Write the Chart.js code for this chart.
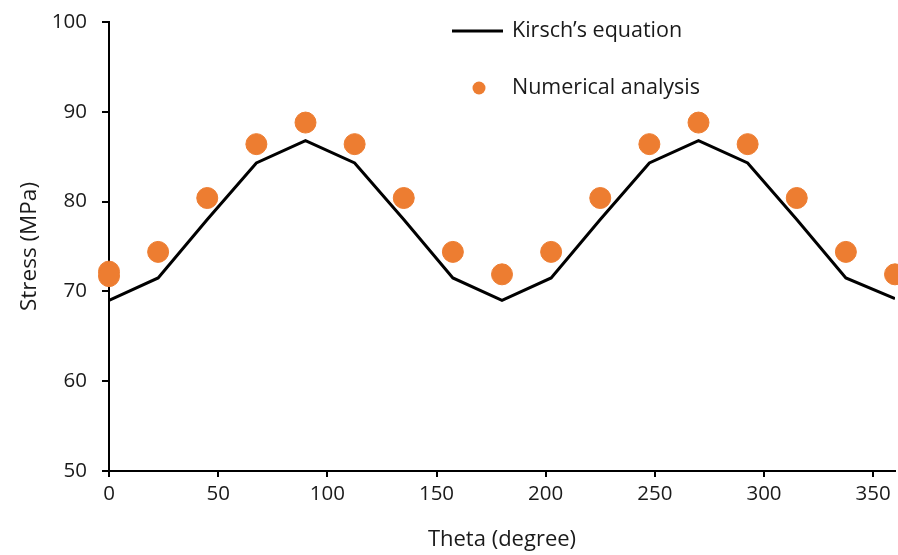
<!DOCTYPE html>
<html>
<head>
<meta charset="utf-8">
<script src="https://cdn.jsdelivr.net/npm/chart.js@4/dist/chart.umd.min.js"></script>
<style>
  html, body { margin: 0; padding: 0; background: #fff; }
  #wrap { width: 898px; height: 555px; }
</style>
</head>
<body>
<div id="wrap"><canvas id="stressChart" width="898" height="555"></canvas></div>
<script>
// theta in degrees, stress in MPa
const kirschTheta = [0, 22.5, 45, 67.5, 90, 112.5, 135, 157.5, 180, 202.5, 225, 247.5, 270, 292.5, 315, 337.5, 360];
const kirschStress = [69.0, 71.5, 78.0, 84.3, 86.8, 84.3, 78.0, 71.5, 69.0, 71.5, 78.0, 84.3, 86.8, 84.3, 78.0, 71.5, 69.2];

const numTheta = [0, 0, 22.5, 45, 67.5, 90, 112.5, 135, 157.5, 180, 202.5, 225, 247.5, 270, 292.5, 315, 337.5, 360];
const numStress = [72.2, 71.7, 74.4, 80.4, 86.4, 88.8, 86.4, 80.4, 74.4, 71.9, 74.4, 80.4, 86.4, 88.8, 86.4, 80.4, 74.4, 71.9];

const xTicks = [0, 50, 100, 150, 200, 250, 300, 350];

const FONT = "'Open Sans', 'Noto Sans', sans-serif";
const TEXT = '#1a1a1a';
const ORANGE = '#ED7D31';

const toPoints = (xs, ys) => xs.map((x, i) => ({ x: x, y: ys[i] }));

// legend drawn inside the plot, upper middle
const insideLegend = {
  id: 'insideLegend',
  afterDraw(chart) {
    const { ctx, chartArea } = chart;
    const x0 = chartArea.left + 343;
    const y1 = chartArea.top + 9;
    const y2 = chartArea.top + 66;
    ctx.save();
    ctx.strokeStyle = '#000';
    ctx.lineWidth = 3;
    ctx.beginPath();
    ctx.moveTo(x0, y1);
    ctx.lineTo(x0 + 51, y1);
    ctx.stroke();
    ctx.fillStyle = ORANGE;
    ctx.beginPath();
    ctx.arc(x0 + 27, y2, 6.5, 0, Math.PI * 2);
    ctx.fill();
    ctx.fillStyle = TEXT;
    ctx.font = '21.5px ' + FONT;
    ctx.textBaseline = 'middle';
    ctx.textAlign = 'left';
    ctx.fillText('Kirsch\u2019s equation', x0 + 60, y1);
    ctx.fillText('Numerical analysis', x0 + 60, y2);
    ctx.restore();
  }
};

new Chart(document.getElementById('stressChart'), {
  type: 'scatter',
  data: {
    datasets: [
      {
        label: 'Numerical analysis',
        data: toPoints(numTheta, numStress),
        backgroundColor: ORANGE,
        borderColor: ORANGE,
        pointRadius: 10.5,
        showLine: false,
        clip: false,
        order: 2
      },
      {
        label: 'Kirsch\u2019s equation',
        data: toPoints(kirschTheta, kirschStress),
        borderColor: '#000',
        borderWidth: 3,
        pointRadius: 0,
        showLine: true,
        tension: 0,
        order: 1
      }
    ]
  },
  plugins: [insideLegend],
  options: {
    responsive: false,
    animation: false,
    layout: { autoPadding: false, padding: { top: 22, right: 3, left: 0, bottom: 0 } },
    plugins: {
      legend: { display: false },
      tooltip: { enabled: false }
    },
    scales: {
      x: {
        type: 'linear',
        min: 0,
        max: 360,
        afterBuildTicks: (scale) => {
          scale.ticks = xTicks.map(v => ({ value: v }));
        },
        afterFit: (scale) => { scale.height = 84; },
        border: { display: true, color: '#000', width: 2 },
        grid: { drawOnChartArea: false, drawTicks: true, tickLength: 6, color: '#000', lineWidth: 2 },
        ticks: { color: TEXT, font: { family: FONT, size: 20.5 }, padding: 5, maxRotation: 0 },
        title: {
          display: true,
          text: 'Theta (degree)',
          color: TEXT,
          font: { family: FONT, size: 22 },
          padding: 2
        }
      },
      y: {
        min: 50,
        max: 100,
        ticks: { stepSize: 10, color: TEXT, font: { family: FONT, size: 20.5 }, padding: 15 },
        afterFit: (scale) => {
          scale.width = 109;
          // keep the label gap from pushing the plot area down
          scale.paddingTop = 12;
          scale.paddingBottom = 12;
        },
        border: { display: true, color: '#000', width: 2 },
        grid: { drawOnChartArea: false, drawTicks: true, tickLength: 7, color: '#000', lineWidth: 2 },
        title: {
          display: true,
          text: 'Stress (MPa)',
          color: TEXT,
          font: { family: FONT, size: 22.5 },
          padding: 16
        }
      }
    }
  }
});
</script>
</body>
</html>
